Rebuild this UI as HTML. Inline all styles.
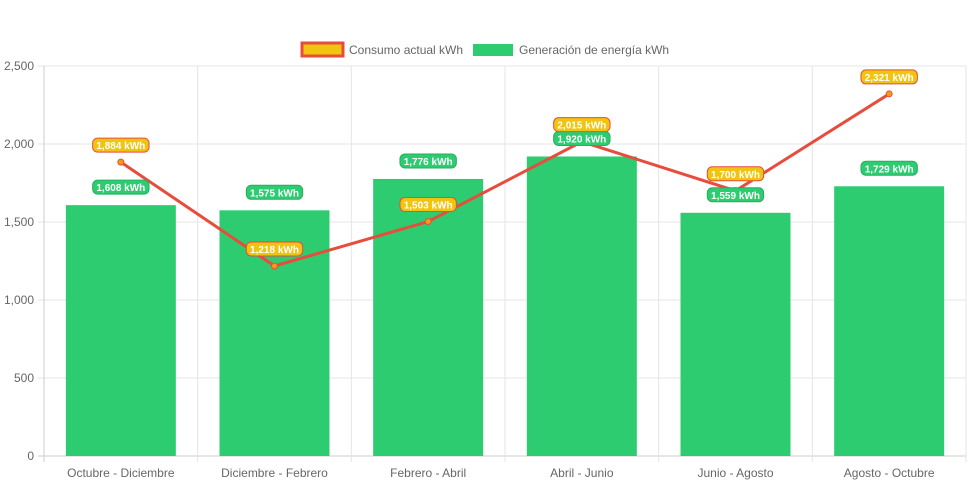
<!DOCTYPE html>
<html><head><meta charset="utf-8"><style>
body{margin:0;background:#fff;}
svg text{font-family:"Liberation Sans",Arial,sans-serif;}
</style></head><body>
<svg id="c" width="971" height="485">
<g>
<g>
<rect x="302" y="43" width="41" height="13" fill="#f1c40f" stroke="#e74c3c" stroke-width="3"/>
<text x="349" y="54" font-size="12" fill="#666">Consumo actual kWh</text></g>
<g>
<rect x="473" y="44" width="40" height="12" fill="#2ecc71"/>
<text x="519" y="54" font-size="12" fill="#666">Generación de energía kWh</text></g>
</g>
<g id="grid"></g><g id="bars"></g><g id="line"></g><g id="labels"></g>
</svg>
<script>
const categories=["Octubre - Diciembre","Diciembre - Febrero","Febrero - Abril","Abril - Junio","Junio - Agosto","Agosto - Octubre"];
const generacion=[1608,1575,1776,1920,1559,1729];
const consumo=[1884,1218,1503,2015,1700,2321];
const yTicks=[0,500,1000,1500,2000,2500];
const NS="http://www.w3.org/2000/svg";
const L=44,R=966,T=66,B=456,maxV=2500;
const bw=(R-L)/categories.length;
const y=v=>B-(v/maxV)*(B-T);
const x=i=>L+bw*(i+0.5);
function mk(t,a,p){const e=document.createElementNS(NS,t);for(const k in a)e.setAttribute(k,a[k]);p.appendChild(e);return e;}
const fmt=v=>v.toLocaleString("en-US");
const g=document.getElementById("grid");
yTicks.forEach(v=>{
 const ln=mk("line",{x1:L-6,x2:R,y1:y(v),y2:y(v),stroke:v===0?"#ccc":"#e5e5e5"},g);
 
 
 const t=mk("text",{x:L-10,y:y(v)+4,"text-anchor":"end","font-size":12,fill:"#666"},g);t.textContent=fmt(v);
 
 
});
for(let i=0;i<=categories.length;i++){
 const xx=L+bw*i;
 const ln=mk("line",{x1:xx,x2:xx,y1:T,y2:B+6,stroke:i===0?"#ccc":"#e5e5e5"},g);
 
 
}
categories.forEach((c,i)=>{
 const t=mk("text",{x:x(i),y:477,"text-anchor":"middle","font-size":12,fill:"#666"},g);t.textContent=c;
 
 
});
const bg=document.getElementById("bars"),lab=document.getElementById("labels");
function label(cx,cy,txt,fill,stroke){
 const w=txt.length*5.6+6;
 const r=mk("rect",{x:cx-w/2,y:cy-7,width:w,height:14,rx:5,fill:fill,stroke:stroke,"stroke-width":1},lab);
 
 
 const t=mk("text",{x:cx,y:cy+4,"text-anchor":"middle","font-size":10,"font-weight":"bold",fill:"#fff"},lab);t.textContent=txt;
 
 
}
generacion.forEach((v,i)=>{
 const r=mk("rect",{x:x(i)-55,y:y(v),width:110,height:B-y(v),fill:"#2ecc71"},bg);
 
 
 label(x(i),y(v)-18,fmt(v)+" kWh","#2ecc71","#27ae60");
});
const lg=document.getElementById("line");
const p=mk("polyline",{points:consumo.map((v,i)=>x(i)+","+y(v)).join(" "),fill:"none",stroke:"#e74c3c","stroke-width":3},lg);


consumo.forEach((v,i)=>{
 const c=mk("circle",{cx:x(i),cy:y(v),r:3,fill:"#f39c12",stroke:"#e74c3c","stroke-width":1},lg);
 
 
 label(x(i),y(v)-17,fmt(v)+" kWh","#f1c40f","#e74c3c");
});
</script>
</body></html>
